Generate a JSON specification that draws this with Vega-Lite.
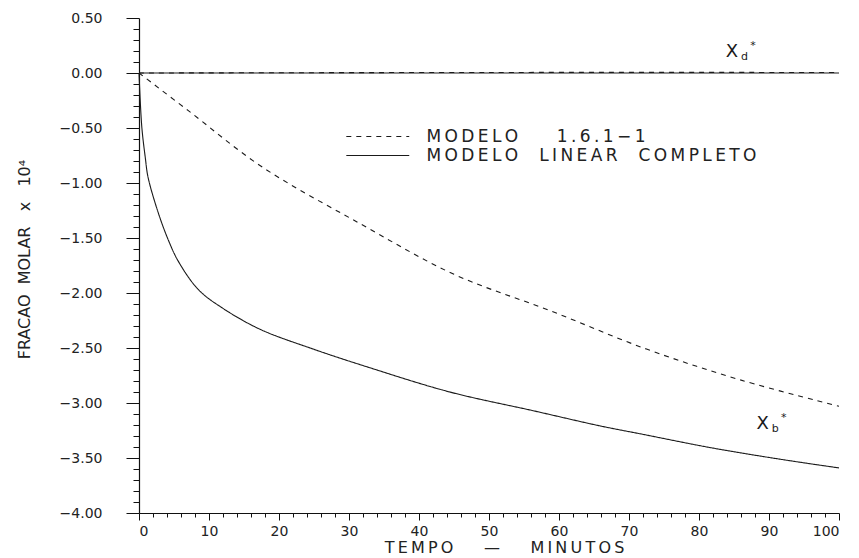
{
  "$schema": "https://vega.github.io/schema/vega-lite/v6.json",
  "width": 700,
  "height": 495,
  "autosize": "none",
  "padding": {"left": 139, "top": 18, "right": 20, "bottom": 45},
  "background": "white",
  "config": {
    "view": {"stroke": null},
    "font": "DejaVu Sans",
    "axis": {
      "grid": false,
      "domainColor": "#111",
      "domainWidth": 1.2,
      "tickColor": "#111",
      "tickWidth": 1,
      "labelColor": "#222",
      "titleColor": "#222",
      "labelFont": "DejaVu Sans",
      "titleFont": "DejaVu Sans",
      "titleFontWeight": "normal"
    },
    "legend": {"labelFont": "DejaVu Sans", "labelColor": "#222"}
  },
  "datasets": {
    "curvas": [
      {"tempo": 0, "fracao": 0.0, "modelo": "MODELO\u00a0\u00a0LINEAR\u00a0\u00a0COMPLETO", "serie": "Xb"},
      {"tempo": 0.4, "fracao": -0.49, "modelo": "MODELO\u00a0\u00a0LINEAR\u00a0\u00a0COMPLETO", "serie": "Xb"},
      {"tempo": 0.9, "fracao": -0.77, "modelo": "MODELO\u00a0\u00a0LINEAR\u00a0\u00a0COMPLETO", "serie": "Xb"},
      {"tempo": 1.3, "fracao": -0.95, "modelo": "MODELO\u00a0\u00a0LINEAR\u00a0\u00a0COMPLETO", "serie": "Xb"},
      {"tempo": 2.8, "fracao": -1.28, "modelo": "MODELO\u00a0\u00a0LINEAR\u00a0\u00a0COMPLETO", "serie": "Xb"},
      {"tempo": 4.2, "fracao": -1.52, "modelo": "MODELO\u00a0\u00a0LINEAR\u00a0\u00a0COMPLETO", "serie": "Xb"},
      {"tempo": 5.6, "fracao": -1.71, "modelo": "MODELO\u00a0\u00a0LINEAR\u00a0\u00a0COMPLETO", "serie": "Xb"},
      {"tempo": 8.5, "fracao": -1.97, "modelo": "MODELO\u00a0\u00a0LINEAR\u00a0\u00a0COMPLETO", "serie": "Xb"},
      {"tempo": 12.0, "fracao": -2.14, "modelo": "MODELO\u00a0\u00a0LINEAR\u00a0\u00a0COMPLETO", "serie": "Xb"},
      {"tempo": 17.3, "fracao": -2.33, "modelo": "MODELO\u00a0\u00a0LINEAR\u00a0\u00a0COMPLETO", "serie": "Xb"},
      {"tempo": 24.9, "fracao": -2.51, "modelo": "MODELO\u00a0\u00a0LINEAR\u00a0\u00a0COMPLETO", "serie": "Xb"},
      {"tempo": 33.0, "fracao": -2.68, "modelo": "MODELO\u00a0\u00a0LINEAR\u00a0\u00a0COMPLETO", "serie": "Xb"},
      {"tempo": 44.4, "fracao": -2.9, "modelo": "MODELO\u00a0\u00a0LINEAR\u00a0\u00a0COMPLETO", "serie": "Xb"},
      {"tempo": 56.3, "fracao": -3.07, "modelo": "MODELO\u00a0\u00a0LINEAR\u00a0\u00a0COMPLETO", "serie": "Xb"},
      {"tempo": 66.0, "fracao": -3.21, "modelo": "MODELO\u00a0\u00a0LINEAR\u00a0\u00a0COMPLETO", "serie": "Xb"},
      {"tempo": 71.6, "fracao": -3.28, "modelo": "MODELO\u00a0\u00a0LINEAR\u00a0\u00a0COMPLETO", "serie": "Xb"},
      {"tempo": 82.0, "fracao": -3.41, "modelo": "MODELO\u00a0\u00a0LINEAR\u00a0\u00a0COMPLETO", "serie": "Xb"},
      {"tempo": 92.5, "fracao": -3.52, "modelo": "MODELO\u00a0\u00a0LINEAR\u00a0\u00a0COMPLETO", "serie": "Xb"},
      {"tempo": 100, "fracao": -3.59, "modelo": "MODELO\u00a0\u00a0LINEAR\u00a0\u00a0COMPLETO", "serie": "Xb"},
      {"tempo": 0, "fracao": 0.0, "modelo": "MODELO\u00a0\u00a0\u00a0\u00a01.6.1\u22121", "serie": "Xb"},
      {"tempo": 7.0, "fracao": -0.34, "modelo": "MODELO\u00a0\u00a0\u00a0\u00a01.6.1\u22121", "serie": "Xb"},
      {"tempo": 17.5, "fracao": -0.85, "modelo": "MODELO\u00a0\u00a0\u00a0\u00a01.6.1\u22121", "serie": "Xb"},
      {"tempo": 31.6, "fracao": -1.37, "modelo": "MODELO\u00a0\u00a0\u00a0\u00a01.6.1\u22121", "serie": "Xb"},
      {"tempo": 45.0, "fracao": -1.83, "modelo": "MODELO\u00a0\u00a0\u00a0\u00a01.6.1\u22121", "serie": "Xb"},
      {"tempo": 58.7, "fracao": -2.16, "modelo": "MODELO\u00a0\u00a0\u00a0\u00a01.6.1\u22121", "serie": "Xb"},
      {"tempo": 72.5, "fracao": -2.51, "modelo": "MODELO\u00a0\u00a0\u00a0\u00a01.6.1\u22121", "serie": "Xb"},
      {"tempo": 85.9, "fracao": -2.79, "modelo": "MODELO\u00a0\u00a0\u00a0\u00a01.6.1\u22121", "serie": "Xb"},
      {"tempo": 100, "fracao": -3.03, "modelo": "MODELO\u00a0\u00a0\u00a0\u00a01.6.1\u22121", "serie": "Xb"},
      {"tempo": 0, "fracao": 0.0, "modelo": "MODELO\u00a0\u00a0LINEAR\u00a0\u00a0COMPLETO", "serie": "Xd"},
      {"tempo": 50, "fracao": 0.0, "modelo": "MODELO\u00a0\u00a0LINEAR\u00a0\u00a0COMPLETO", "serie": "Xd"},
      {"tempo": 100, "fracao": 0.0, "modelo": "MODELO\u00a0\u00a0LINEAR\u00a0\u00a0COMPLETO", "serie": "Xd"},
      {"tempo": 0, "fracao": 0.0, "modelo": "MODELO\u00a0\u00a0\u00a0\u00a01.6.1\u22121", "serie": "Xd"},
      {"tempo": 50, "fracao": 0.005, "modelo": "MODELO\u00a0\u00a0\u00a0\u00a01.6.1\u22121", "serie": "Xd"},
      {"tempo": 100, "fracao": 0.005, "modelo": "MODELO\u00a0\u00a0\u00a0\u00a01.6.1\u22121", "serie": "Xd"}
    ],
    "rotulos": [
      {"tempo": 84.7, "fracao": 0.19, "letra": "X", "indice": "d", "marca": "*"},
      {"tempo": 89.1, "fracao": -3.195, "letra": "X", "indice": "b", "marca": "*"}
    ]
  },
  "layer": [
    {
      "data": {"name": "curvas"},
      "mark": {"type": "point", "opacity": 0},
      "encoding": {
        "x": {
          "field": "tempo", "type": "quantitative",
          "scale": {"domain": [0, 100], "nice": false},
          "axis": {
            "orient": "bottom", "title": null, "labels": false, "domain": false,
            "tickSize": 4,
            "values": [2, 4, 6, 8, 12, 14, 16, 18, 22, 24, 26, 28, 32, 34, 36, 38, 42, 44, 46, 48, 52, 54, 56, 58, 62, 64, 66, 68, 72, 74, 76, 78, 82, 84, 86, 88, 92, 94, 96, 98]
          }
        },
        "y": {
          "field": "fracao", "type": "quantitative",
          "scale": {"domain": [-4, 0.5], "nice": false, "zero": false},
          "axis": {
            "orient": "left", "title": null, "labels": false, "domain": false,
            "tickSize": 6,
            "values": [-3.9, -3.8, -3.7, -3.6, -3.4, -3.3, -3.2, -3.1, -2.9, -2.8, -2.7, -2.6, -2.4, -2.3, -2.2, -2.1, -1.9, -1.8, -1.7, -1.6, -1.4, -1.3, -1.2, -1.1, -0.9, -0.8, -0.7, -0.6, -0.4, -0.3, -0.2, -0.1, 0.1, 0.2, 0.3, 0.4]
          }
        }
      }
    },
    {
      "data": {"name": "curvas"},
      "mark": {"type": "line", "color": "#1a1a1a", "strokeWidth": 1.1, "interpolate": "catmull-rom"},
      "encoding": {
        "x": {
          "field": "tempo", "type": "quantitative",
          "axis": {
            "orient": "bottom",
            "values": [0, 10, 20, 30, 40, 50, 60, 70, 80, 90, 100],
            "tickSize": 7,
            "labelPadding": 4,
            "labelFontSize": 14,
            "title": "T\u2009E\u2009M\u2009P\u2009O\u00a0\u00a0\u00a0\u00a0\u00a0\u00a0\u2014\u00a0\u00a0\u00a0\u00a0\u00a0\u00a0M\u2009I\u2009N\u2009U\u2009T\u2009O\u2009S",
            "titleFontSize": 16,
            "titleX": 365,
            "titleY": 34,
            "titleBaseline": "middle"
          }
        },
        "y": {
          "field": "fracao", "type": "quantitative",
          "axis": {
            "orient": "left",
            "values": [-4, -3.5, -3, -2.5, -2, -1.5, -1, -0.5, 0, 0.5],
            "format": ".2f",
            "tickSize": 13,
            "labelPadding": 24,
            "labelFontSize": 14,
            "title": "FRACAO\u00a0\u00a0MOLAR\u00a0\u00a0\u00a0x\u00a0\u00a0\u00a010\u2074",
            "titleFontSize": 16,
            "titleAngle": -90,
            "titleX": -115,
            "titleY": 241,
            "titleAlign": "center",
            "titleBaseline": "middle"
          }
        },
        "strokeDash": {
          "field": "modelo", "type": "nominal",
          "scale": {
            "domain": ["MODELO\u00a0\u00a0\u00a0\u00a01.6.1\u22121", "MODELO\u00a0\u00a0LINEAR\u00a0\u00a0COMPLETO"],
            "range": [[5, 5], [1, 0]]
          },
          "legend": {
            "title": null,
            "orient": "none",
            "legendX": 256.5,
            "legendY": 110,
            "direction": "vertical",
            "symbolType": "M-11,0H1",
            "symbolSize": 110,
            "symbolStrokeWidth": 1.1,
            "symbolStrokeColor": "#1a1a1a",
            "symbolFillColor": "transparent",
            "labelFontSize": 17,
            "labelOffset": 14,
            "labelLimit": 0,
            "labelExpr": "join(split(datum.label, ''), '\u2009')",
            "rowPadding": 1,
            "padding": 0
          }
        },
        "detail": {"field": "serie", "type": "nominal"}
      }
    },
    {
      "data": {"name": "rotulos"},
      "mark": {"type": "text", "fontSize": 18, "color": "#1a1a1a", "align": "center", "baseline": "middle"},
      "encoding": {
        "x": {"field": "tempo", "type": "quantitative", "axis": null},
        "y": {"field": "fracao", "type": "quantitative", "axis": null},
        "text": {"field": "letra"}
      }
    },
    {
      "data": {"name": "rotulos"},
      "mark": {"type": "text", "fontSize": 11, "color": "#1a1a1a", "align": "center", "baseline": "middle", "dx": 12.5, "dy": 5},
      "encoding": {
        "x": {"field": "tempo", "type": "quantitative", "axis": null},
        "y": {"field": "fracao", "type": "quantitative", "axis": null},
        "text": {"field": "indice"}
      }
    },
    {
      "data": {"name": "rotulos"},
      "mark": {"type": "text", "fontSize": 11, "color": "#1a1a1a", "align": "center", "baseline": "middle", "dx": 21, "dy": -6},
      "encoding": {
        "x": {"field": "tempo", "type": "quantitative", "axis": null},
        "y": {"field": "fracao", "type": "quantitative", "axis": null},
        "text": {"field": "marca"}
      }
    }
  ],
  "resolve": {"axis": {"x": "independent", "y": "independent"}}
}
